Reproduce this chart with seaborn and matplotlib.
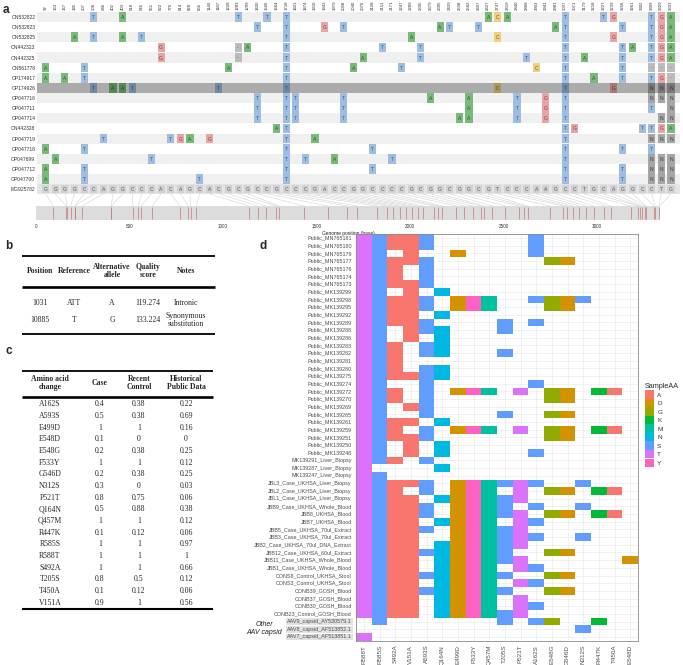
import numpy as np
import pandas as pd
import matplotlib
matplotlib.use("Agg")
import matplotlib.pyplot as plt
from matplotlib.colors import ListedColormap, to_rgb
from matplotlib.patches import Rectangle, ConnectionPatch, Patch
import seaborn as sns

sns.set_style("white")
plt.rcParams["font.family"] = ["Liberation Sans", "DejaVu Sans"]

W, H = 683, 665

# ---------------- panel a: alignment of variable sites ----------------
seq_ids = ["ON532822", "ON532823", "ON532825", "ON442323", "ON442325", "ON561778",
           "OP174917", "OP174926", "OP047716", "OP047711", "OP047714", "ON442328",
           "OP047719", "OP047718", "OP047699", "OP047712", "OP047700"]
ref_id = "MG925782"
highlight_row = 7
var_pos = [92, 163, 167, 185, 207, 208, 246, 402, 403, 518, 546, 561, 622, 770, 814,
           828, 856, 1140, 1187, 1228, 1283, 1299, 1430, 1560, 1664, 1718, 1821, 1874,
           1910, 1943, 1979, 2008, 2040, 2070, 2128, 2151, 2171, 2247, 2289, 2335, 2379,
           2395, 2439, 2508, 2582, 2607, 2627, 2747, 2819, 2840, 2868, 2903, 2941, 2981,
           3037, 3071, 3179, 3218, 3227, 3239, 3256, 3261, 3302, 3309, 3329, 3333]
ref_bases = "GGGGCCAGGCCCACAGCACGCGCCGCCCGACCGGCCCCGCGGCGGCGTCCCAAGCCTGCAGGCCTG"
# column:base for every sequence that differs from the reference
seq_variants = [
    "5T 8A 20T 23T 25T 46A 47C 48A 54T 58T 59G 63T 64G 65A",
    "22T 25T 29G 31T 41A 42T 45T 53A 54T 60T 63T 64G 65A",
    "3A 5T 8A 10T 25T 38A 47C 54T 59G 63T 64G 65A",
    "12G 20- 21A 25T 35T 39T 54T 60T 61A 63T 64G 65A",
    "12G 20- 25T 33A 39T 50T 54T 56A 60T 63T 64G 65A",
    "0A 4T 19A 25T 32A 37T 51C 54T 60T 63- 64- 65-",
    "0A 2A 4T 25T 54T 57A 60T 63T 64G 65-",
    "5T 7A 8A 9T 18T 25T 47C 54T 59G 63N 64N 65N",
    "22T 25T 26T 31T 40A 44A 49T 52G 54T 63N 64N 65N",
    "22T 25T 26T 31T 44A 49T 52G 54T 63T 65N",
    "22T 25T 26T 31T 43A 44A 49T 52G 54T 64N 65N",
    "24A 25T 54T 55G 62T 63T 64G 65A",
    "6T 13T 14G 15A 17G 25T 28A 54T 63N 64N 65N",
    "0A 4T 25T 34T 54T 60T 63T",
    "1A 11T 25T 27T 30A 36T 54T 63N 64N 65N",
    "0A 4T 25T 34T 54T 60T 63N 64N 65N",
    "0A 4T 16T 25T 54T 60T 63N 64N 65N",
]
base_face = {"A": "#79b979", "T": "#9fbde0", "G": "#e6a6a6", "C": "#f0cf7f",
             "N": "#a6a6a6", "-": "#bcbcbc"}
base_text = {"A": "#245c24", "T": "#2c5a94", "G": "#9a2e2e", "C": "#80580c",
             "N": "#3c3c3c", "-": "#5c5c5c"}

# ---------------- panel b: called variants ----------------
b_header = ["Position", "Reference", "Alternative\nallele", "Quality\nscore", "Notes"]
b_position = ["1031", "10885"]
b_reference = ["ATT", "T"]
b_alt = ["A", "G"]
b_quality = [119.274, 133.224]
b_notes = ["Intronic", "Synonymous\nsubstitution"]

# ---------------- panel c: amino acid change frequencies ----------------
c_header = ["Amino acid\nchange", "Case", "Recent\nControl", "Historical\nPublic Data"]
aa_change = ["A162S", "A593S", "E499D", "E548D", "E548G", "F533Y", "G546D", "N312S",
             "P521T", "Q164N", "Q457M", "R447K", "R585S", "R588T", "S492A", "T205S",
             "T450A", "V151A"]
freq_case = [0.4, 0.5, 1, 0.1, 0.2, 1, 0.2, 0.3, 0.8, 0.5, 1, 0.1, 1, 1, 1, 0.8, 0.1, 0.9]
freq_recent = [0.38, 0.38, 1, 0, 0.38, 1, 0.38, 0, 0.75, 0.88, 1, 0.12, 1, 1, 1, 0.5, 0.12, 1]
freq_public = [0.22, 0.69, 0.16, 0, 0.25, 0.12, 0.25, 0.03, 0.06, 0.38, 0.12, 0.06, 0.97,
               1, 0.66, 0.12, 0.06, 0.56]

# ---------------- panel d: per-sample amino acid heatmap ----------------
samples = [
    "Public_MN765181", "Public_MN765180", "Public_MN765179", "Public_MN765177",
    "Public_MN765176", "Public_MN765174", "Public_MN765173", "Public_MK139299",
    "Public_MK139298", "Public_MK139295", "Public_MK139292", "Public_MK139289",
    "Public_MK139288", "Public_MK139286", "Public_MK139283", "Public_MK139282",
    "Public_MK139281", "Public_MK139280", "Public_MK139275", "Public_MK139274",
    "Public_MK139272", "Public_MK139270", "Public_MK139269", "Public_MK139265",
    "Public_MK139261", "Public_MK139259", "Public_MK139251", "Public_MK139250",
    "Public_MK139248", "MK139291_Liver_Biopsy", "MK139287_Liver_Biopsy",
    "MK139247_Liver_Biopsy", "JBL3_Case_UKHSA_Liver_Biopsy", "JBL2_Case_UKHSA_Liver_Biopsy",
    "JBL1_Case_UKHSA_Liver_Biopsy", "JBB9_Case_UKHSA_Whole_Blood", "JBB8_UKHSA_Blood",
    "JBB7_UKHSA_Blood", "JBB5_Case_UKHSA_70ul_Extract", "JBB3_Case_UKHSA_70ul_Extract",
    "JBB2_Case_UKHSA_70ul_DNA_Extract", "JBB12_Case_UKHSA_60ul_Extract",
    "JBB11_Case_UKHSA_Whole_Blood", "JBB1_Case_UKHSA_Whole_Blood",
    "CONS8_Control_UKHSA_Stool", "CONS3_Control_UKHSA_Stool", "CONB39_GOSH_Blood",
    "CONB37_GOSH_Blood", "CONB30_GOSH_Blood", "CONB23_Control_GOSH_Blood",
    "AAV9_capsid_AY530579.1", "AAV8_capsid_AF513852.1", "AAV7_capsid_AF513851.1",
]
mutations = ["R588T", "R585S", "S492A", "V151A", "A593S", "Q164N", "E499D", "F533Y",
             "Q457M", "T205S", "P521T", "A162S", "E548G", "G546D", "N312S", "R447K",
             "T450A", "E548D"]
# sample rows carrying each mutation (row index ranges)
hits = [
    "0-49,52",
    "0-29,31-50",
    "0-1,3-6,8-11,14-18,20-21,24-26,29,32-49",
    "0-3,6-13,18,22,24,26-28,32,34-49",
    "0-1,3-6,8-9,11-12,14-15,17-23,25-26,29,32-33,35-36,38,41,44,46",
    "7,10,12-15,17-18,24,27-28,30,34,37,40-49",
    "2,8-9,20,25,32-49",
    "8-9,20,25,32-49",
    "8-9,20,25,32-49",
    "11-12,15,23,32,34-36,38-42,44,46,49-50",
    "20,25,32-34,36-40,42-43,45,47-49",
    "0-2,8,11,19,28,32,35,37,39,43,45,48,50",
    "3,8-9,20-21,23,25-26,33,36,41,44,46,50",
    "3,8-9,20-21,23,25-26,33,36,41,44,46",
    "8,32,35,39,51",
    "20,25,33,36,50",
    "20,25,33,36",
    "42",
]
aa_levels = ["A", "D", "G", "K", "M", "N", "S", "T", "Y"]
aa_colors = ["#F8766D", "#D39200", "#93AA00", "#00BA38", "#00C19F", "#00B9E3",
             "#619CFF", "#DB72FB", "#FF61C3"]


def parse_rows(spec):
    out = []
    for part in spec.split(","):
        if "-" in part:
            a, b = part.split("-")
            out += list(range(int(a), int(b) + 1))
        else:
            out.append(int(part))
    return out


def box(x0, y0, x1, y1):
    return [x0 / W, 1 - y1 / H, (x1 - x0) / W, (y1 - y0) / H]


def darker(c, f=0.72):
    return tuple(v * f for v in to_rgb(c))


fig = plt.figure(figsize=(W / 100, H / 100), dpi=100)
fig.patch.set_facecolor("white")

# overlay in pixel coordinates for the two tables
ov = fig.add_axes([0, 0, 1, 1])
ov.set_xlim(0, W); ov.set_ylim(H, 0); ov.axis("off")

# ---- panel a ----
n_seq = len(seq_ids)
ax_a = fig.add_axes(box(37, 11.9, 680, 194.3))
ax_a.set_xlim(-0.904, 65.94); ax_a.set_ylim(n_seq + 0.5, -0.5)
for r in range(n_seq):
    if r == highlight_row:
        ax_a.axhspan(r - 0.5, r + 0.5, color="#ababab", lw=0)
    elif r % 2 == 0:
        ax_a.axhspan(r - 0.5, r + 0.5, color="#f0f0f0", lw=0)
ax_a.axhspan(n_seq - 0.5, n_seq + 0.5, color="#e4e4e4", lw=0)

for r, spec in enumerate(seq_variants):
    for tok in spec.split():
        c, b = int(tok[:-1]), tok[-1]
        fc, tc = base_face[b], base_text[b]
        if r == highlight_row:
            fc, tc = darker(fc), darker(tc, 0.8)
        ax_a.add_patch(Rectangle((c - 0.37, r - 0.48), 0.74, 0.96, fc=fc, ec="none"))
        ax_a.text(c, r + 0.05, b, ha="center", va="center", fontsize=3.6, color=tc)
for c, b in enumerate(ref_bases):
    ax_a.add_patch(Rectangle((c - 0.37, n_seq - 0.42), 0.74, 0.84, fc="#d2d2d2", ec="none"))
    ax_a.text(c, n_seq + 0.05, b, ha="center", va="center", fontsize=3.6, color="#555555")

ax_a.set_yticks(range(n_seq + 1))
ax_a.set_yticklabels(seq_ids + [ref_id], fontsize=3.6, color="#333333")
ax_a.xaxis.tick_top()
ax_a.set_xticks(range(len(var_pos)))
ax_a.set_xticklabels([str(p) for p in var_pos], rotation=90, fontsize=3.1, color="#333333")
ax_a.tick_params(length=0, pad=1.2)
for s in ax_a.spines.values():
    s.set_visible(False)

ax_t = fig.add_axes(box(36, 206, 660, 220))
ax_t.set_facecolor("#dcdcdc")
ax_t.set_xlim(0, 3335); ax_t.set_ylim(0, 1)
ax_t.vlines(var_pos, 0.08, 0.92, color="#c07a7a", lw=0.5)
ax_t.set_xticks(range(0, 3001, 500))
ax_t.tick_params(axis="x", length=0, pad=3, labelsize=3.3, colors="#333333")
ax_t.set_yticks([])
ax_t.set_xlabel("Genome position (base)", fontsize=3.5, labelpad=1, color="#222222")
for s in ax_t.spines.values():
    s.set_visible(False)

for c, p in enumerate(var_pos):
    fig.add_artist(ConnectionPatch(xyA=(c, n_seq + 0.45), coordsA=ax_a.transData,
                                   xyB=(p, 1.0), coordsB=ax_t.transData,
                                   color="#cdcdcd", lw=0.35))

# ---- panel b ----
serif = ["Liberation Serif", "DejaVu Serif"]
bx = [40, 74, 112, 148, 186]
ov.hlines(256, 22, 215, color="black", lw=1.3)
for x, t in zip(bx, b_header):
    ov.text(x, 271, t, ha="center", va="center", fontsize=5.6, fontweight="bold",
            family=serif, linespacing=1.15)
ov.hlines(287, 22, 215, color="black", lw=1.9)
b_y = [303, 320]
for i, y in enumerate(b_y):
    vals = [b_position[i], b_reference[i], b_alt[i], f"{b_quality[i]:.3f}", b_notes[i]]
    for x, t in zip(bx, vals):
        ov.text(x, y, t, ha="center", va="center", fontsize=5.6, family=serif,
                linespacing=1.1)
ov.hlines(334, 22, 215, color="black", lw=1.3)

# ---- panel c ----
cx = [50, 100, 139, 186]
ov.hlines(371, 22, 213, color="black", lw=1.3)
for x, t in zip(cx, c_header):
    ov.text(x, 383, t, ha="center", va="center", fontsize=5.6, fontweight="bold",
            family=serif, linespacing=1.15)
ov.hlines(397, 22, 213, color="black", lw=1.9)
for i, aa in enumerate(aa_change):
    y = 404.5 + i * 11.65
    vals = [aa, f"{freq_case[i]:g}", f"{freq_recent[i]:g}", f"{freq_public[i]:g}"]
    for x, t in zip(cx, vals):
        ov.text(x, y, t, ha="center", va="center", fontsize=5.6, family=serif)
ov.hlines(609, 22, 213, color="black", lw=1.5)

# ---- panel d ----
mat = np.zeros((len(samples), len(mutations)))
for j, (mut, spec) in enumerate(zip(mutations, hits)):
    code = aa_levels.index(mut[-1]) + 1
    for i in parse_rows(spec):
        mat[i, j] = code
df = pd.DataFrame(mat, index=samples, columns=mutations)

ax_d = fig.add_axes(box(356, 234.2, 638, 640.7))
sns.heatmap(df, mask=(df == 0), cmap=ListedColormap(aa_colors), vmin=0.5, vmax=9.5,
            cbar=False, xticklabels=True, yticklabels=True, linewidths=0, ax=ax_d)
ax_d.set_axisbelow(True)
ax_d.grid(True, color="#ebebeb", lw=0.5)
for s in ax_d.spines.values():
    s.set_visible(True); s.set_color("#8a8a8a"); s.set_linewidth(0.6)
ax_d.set_xticklabels(mutations, rotation=90, fontsize=4.5, color="#4d4d4d")
ax_d.set_yticklabels(samples, rotation=0, fontsize=3.9, color="#4d4d4d")
ax_d.tick_params(length=2, width=0.4, color="#333333", pad=1)
ax_d.set_xlabel(""); ax_d.set_ylabel("")
for lab in ax_d.get_yticklabels()[-3:]:
    lab.set_bbox(dict(facecolor="#e2e2e2", edgecolor="none", pad=0.6))
ov.text(264, 629, "Other\nAAV capsid", ha="center", va="center", fontsize=5,
        style="italic", color="#222222", linespacing=1.2)

handles = [Patch(facecolor=c, edgecolor="none") for c in aa_colors]
leg = ax_d.legend(handles, aa_levels, title="SampleAA", loc="upper left",
                  bbox_to_anchor=(645 / W, 1 - 383 / H), bbox_transform=fig.transFigure,
                  frameon=False, fontsize=4.6, title_fontsize=5.2, handlelength=1.4,
                  handleheight=1.6, labelspacing=0.05, handletextpad=0.5,
                  borderaxespad=0, borderpad=0)
leg._legend_box.align = "left"
for t in leg.get_texts():
    t.set_color("#333333")

# panel letters
for x, y, t in [(3, 10, "a"), (5, 246, "b"), (5, 351, "c"), (260, 246, "d")]:
    fig.text(x / W, 1 - y / H, t, fontsize=8.5, fontweight="bold", va="center")

fig.savefig("out.png", dpi=100)
